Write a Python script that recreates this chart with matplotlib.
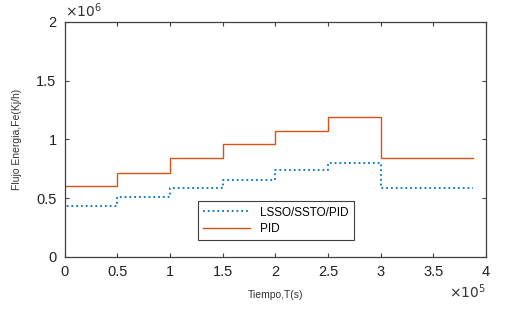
import numpy as np
import matplotlib
matplotlib.use("Agg")
import matplotlib.pyplot as plt
from matplotlib.ticker import FuncFormatter

plt.rcParams['font.family'] = ['Liberation Sans', 'DejaVu Sans']

# step times (s) and energy flow levels (kJ/h)
t_pid = [0, 0.5e5, 1.0e5, 1.5e5, 2.0e5, 2.5e5, 3.0e5, 3.88e5]
fe_pid = [0.60e6, 0.715e6, 0.84e6, 0.96e6, 1.07e6, 1.19e6, 0.84e6, 0.84e6]

t_lsso = [0, 0, 0.5e5, 1.0e5, 1.5e5, 2.0e5, 2.5e5, 3.0e5, 3.88e5]
fe_lsso = [0, 0.434e6, 0.51e6, 0.587e6, 0.655e6, 0.74e6, 0.80e6, 0.587e6, 0.587e6]

blue = (0.0, 0.447, 0.741)
red = (0.85, 0.325, 0.098)
axc = '#404040'

fig = plt.figure(figsize=(5.19, 3.13), dpi=100)
ax = fig.add_axes([0.125, 0.179, 0.811, 0.751])

ax.plot(t_lsso, fe_lsso, drawstyle='steps-post', linestyle=':', color=blue,
        lw=1.3, label='LSSO/SSTO/PID')
ax.plot(t_pid, fe_pid, drawstyle='steps-post', color=red, lw=1.0, label='PID')

ax.set_xlim(0, 4e5)
ax.set_ylim(0, 2e6)
ax.set_xticks(np.arange(0, 4.01e5, 0.5e5))
ax.set_yticks(np.arange(0, 2.01e6, 0.5e6))
ax.xaxis.set_major_formatter(FuncFormatter(lambda v, p: '%g' % (v / 1e5)))
ax.yaxis.set_major_formatter(FuncFormatter(lambda v, p: '%g' % (v / 1e6)))
ax.tick_params(direction='in', top=True, right=True, length=3, width=0.8,
               colors=axc, labelsize=10.5, labelcolor='#222222', pad=6)
for s in ax.spines.values():
    s.set_color(axc)
    s.set_linewidth(0.9)

ax.set_xlabel('Tiempo,T(s)', fontsize=7.5, color='#333333', labelpad=8)
ax.set_ylabel('Flujo Energia,Fe(Kj/h)', fontsize=7.5, color='#333333', labelpad=10)

ax.text(0.0, 1.01, r'$\times10^{6}$', transform=ax.transAxes, fontsize=10,
        color='#333333', ha='left', va='bottom')
ax.text(1.0, -0.11, r'$\times10^{5}$', transform=ax.transAxes, fontsize=10,
        color='#333333', ha='right', va='top')

leg = ax.legend(loc='lower left', bbox_to_anchor=(0.316, 0.072), borderaxespad=0,
                fontsize=8.5, fancybox=False, framealpha=1, edgecolor=axc,
                handlelength=4, borderpad=0.45, labelspacing=0.35)
leg.get_frame().set_linewidth(0.8)

fig.savefig('out.png', dpi=100)
